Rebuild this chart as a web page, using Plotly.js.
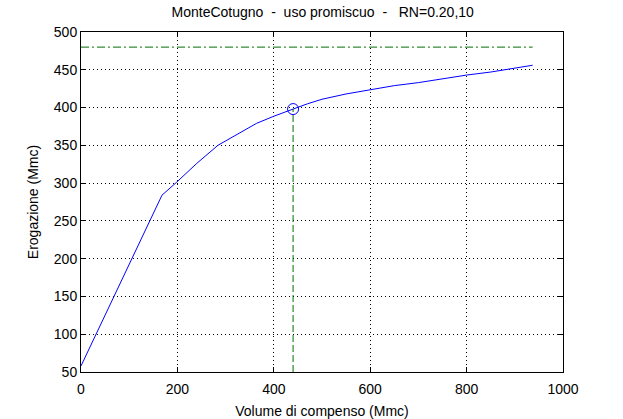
<!DOCTYPE html>
<html>
<head>
<meta charset="utf-8">
<script src="https://cdn.plot.ly/plotly-3.0.1.min.js"></script>
<style>html,body{margin:0;padding:0;background:#fff;}#chart{width:623px;height:419px;}</style>
</head>
<body>
<div id="chart"></div>
<script>
// Curve: volume di compenso (Mmc) vs erogazione (Mmc)
const volume = [0, 40, 85, 130, 168, 198, 240, 284, 308, 340, 364, 398, 412, 440, 470, 500, 550, 600, 650, 700, 750, 800, 850, 900, 937];
const erogazione = [58, 112, 172, 233, 284, 301, 326, 350, 359, 371, 379, 388, 391, 398, 405, 411, 418, 424, 429, 433, 438, 443, 447, 452, 456];
// Selected point
const selVolume = [440];
const selErogazione = [398];
// Reference lines
const refHorizX = [0, 937];
const refHorizY = [480, 480];
const refVertX = [440, 440];
const refVertY = [50, 398];
// Axis ticks
const xTicks = [0, 200, 400, 600, 800, 1000];
const yTicks = [50, 100, 150, 200, 250, 300, 350, 400, 450, 500];

const font = {family: 'Liberation Sans, Arial, sans-serif', size: 14, color: '#000'};

const traces = [
  {x: volume, y: erogazione, type: 'scatter', mode: 'lines', line: {color: '#0000ff', width: 1}, hoverinfo: 'skip'},
  {x: refHorizX, y: refHorizY, type: 'scatter', mode: 'lines', line: {color: '#007000', width: 1, dash: '8px,3px,2px,3px'}},
  {x: refVertX, y: refVertY, type: 'scatter', mode: 'lines', line: {color: '#007000', width: 1, dash: '7px,3px'}},
  {x: selVolume, y: selErogazione, type: 'scatter', mode: 'markers', marker: {symbol: 'circle-open', size: 11, color: '#0000ff', line: {width: 1, color: '#0000ff'}}}
];

const axisCommon = {
  showline: true, mirror: 'allticks', linecolor: '#000', linewidth: 1,
  ticks: 'inside', ticklen: 5, tickcolor: '#000', tickwidth: 1,
  showgrid: true, gridcolor: '#000', gridwidth: 1, griddash: '1px,3px',
  zeroline: false, tickfont: font, automargin: false
};

const layout = {
  width: 623, height: 419,
  margin: {l: 81, r: 60, t: 32, b: 47},
  paper_bgcolor: '#fff', plot_bgcolor: '#fff',
  showlegend: false,
  font: font,
  title: {text: 'MonteCotugno \u00a0-\u00a0 uso promiscuo \u00a0-\u00a0\u00a0 RN=0.20,10', font: font, x: 0.518, xanchor: 'center', y: 0.97, yanchor: 'middle'},
  xaxis: Object.assign({}, axisCommon, {range: [0, 1000], tickvals: xTicks, ticktext: xTicks.map(String), ticklabelstandoff: 4, title: {text: 'Volume di compenso (Mmc)', font: font, standoff: 10}}),
  yaxis: Object.assign({}, axisCommon, {range: [50, 500], tickvals: yTicks, ticktext: yTicks.map(String), title: {text: 'Erogazione (Mmc)', font: font, standoff: 11}})
};

Plotly.newPlot('chart', traces, layout, {displayModeBar: false, staticPlot: true});
</script>
</body>
</html>
